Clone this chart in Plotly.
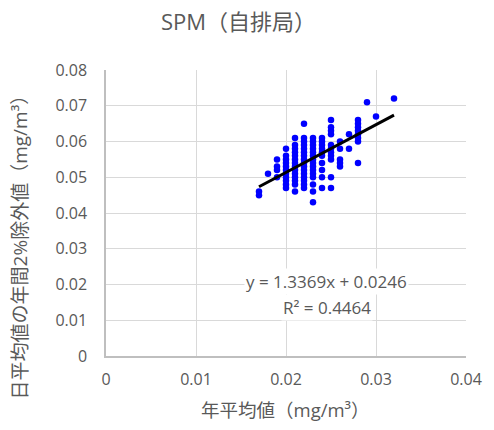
import plotly.graph_objects as go

# Annual mean (x) vs. annual 2% excluded value of daily means (y), grouped by x value
x_levels = [0.017, 0.018, 0.019, 0.020, 0.021, 0.022, 0.023, 0.024,
            0.025, 0.026, 0.027, 0.028, 0.029, 0.030, 0.032]
y_groups = [
    [0.046, 0.045],
    [0.051],
    [0.055, 0.053, 0.052, 0.050],
    [0.058, 0.056, 0.055, 0.054, 0.053, 0.052, 0.051, 0.050, 0.049, 0.048, 0.047],
    [0.061, 0.059, 0.058, 0.057, 0.056, 0.055, 0.054, 0.053, 0.052, 0.051, 0.050,
     0.049, 0.048, 0.046],
    [0.065, 0.061, 0.060, 0.059, 0.058, 0.057, 0.056, 0.055, 0.054, 0.053, 0.052,
     0.051, 0.050, 0.049, 0.048, 0.047],
    [0.061, 0.060, 0.059, 0.058, 0.057, 0.056, 0.055, 0.054, 0.053, 0.052, 0.051,
     0.050, 0.048, 0.046, 0.043],
    [0.061, 0.060, 0.059, 0.058, 0.057, 0.056, 0.054, 0.052, 0.050, 0.047],
    [0.066, 0.064, 0.063, 0.062, 0.059, 0.058, 0.057, 0.056, 0.055, 0.050, 0.047],
    [0.060, 0.058, 0.055, 0.054, 0.053],
    [0.062, 0.058],
    [0.066, 0.065, 0.064, 0.063, 0.062, 0.061, 0.060, 0.054],
    [0.071],
    [0.067],
    [0.072],
]

# Linear trendline coefficients and fit quality
slope = 1.3369
intercept = 0.0246
r_squared = 0.4464

x_ticks = [0, 0.01, 0.02, 0.03, 0.04]
y_ticks = [0, 0.01, 0.02, 0.03, 0.04, 0.05, 0.06, 0.07, 0.08]

title_text = "SPM（自排局）"
x_title = "年平均値（mg/m³）"
y_title = "日平均値の年間2%除外値（mg/m³）"

xs, ys = [], []
for xv, grp in zip(x_levels, y_groups):
    for yv in grp:
        xs.append(xv)
        ys.append(yv)

x_fit = [min(xs), max(xs)]
y_fit = [slope * v + intercept for v in x_fit]

TEXT = "#595959"
FONT = "Open Sans, Noto Sans CJK JP"

# plot area in pixels: x 106..473, y 70..356.5
PW, PH = 367, 286.5


def px_x(p):
    return (p - 106) / PW


def px_y(p):
    return (356.5 - p) / PH


fig = go.Figure()
fig.add_trace(go.Scatter(
    x=xs, y=ys, mode="markers",
    marker=dict(color="#0000FF", size=6.5, line=dict(width=0)),
    hoverinfo="x+y", showlegend=False,
))
fig.add_trace(go.Scatter(
    x=x_fit, y=y_fit, mode="lines",
    line=dict(color="#000000", width=3),
    hoverinfo="skip", showlegend=False,
))

fig.update_layout(
    width=494, height=430,
    margin=dict(l=106, r=21, t=70, b=73.5),
    paper_bgcolor="white", plot_bgcolor="white",
    font=dict(family=FONT, color=TEXT, size=16),
    title=dict(text=title_text, x=238.5 / 494, xanchor="center",
               y=1 - 22 / 430, yanchor="middle",
               font=dict(size=22, color=TEXT, family=FONT)),
    xaxis=dict(
        range=[0, 0.04], tickvals=x_ticks, ticktext=[f"{v:g}" for v in x_ticks],
        showgrid=True, gridcolor="#d9d9d9", gridwidth=1,
        showline=True, linecolor="#bfbfbf", linewidth=1.5,
        zeroline=False, ticks="", tickfont=dict(size=16, color=TEXT),
        ticklabelstandoff=8,
    ),
    yaxis=dict(
        range=[0, 0.08], tickvals=y_ticks, ticktext=[f"{v:g}" for v in y_ticks],
        showgrid=True, gridcolor="#d9d9d9", gridwidth=1,
        showline=True, linecolor="#bfbfbf", linewidth=1.5,
        zeroline=False, ticks="", tickfont=dict(size=16, color=TEXT),
        ticklabelstandoff=14,
    ),
    annotations=[
        dict(text=x_title, xref="paper", yref="paper", x=px_x(289), y=px_y(410),
             xanchor="center", yanchor="middle", showarrow=False,
             font=dict(size=18.5, color=TEXT, family=FONT)),
        dict(text=y_title, xref="paper", yref="paper", x=px_x(18), y=px_y(243),
             xanchor="center", yanchor="middle", showarrow=False, textangle=-90,
             font=dict(size=19, color=TEXT, family=FONT)),
        dict(text=f"y = {slope}x + {intercept}",
             xref="paper", yref="paper", x=px_x(331), y=px_y(282),
             xanchor="center", yanchor="middle", showarrow=False,
             bgcolor="white", font=dict(size=17, color=TEXT, family=FONT)),
        dict(text=f"R² = {r_squared}",
             xref="paper", yref="paper", x=px_x(331), y=px_y(308),
             xanchor="center", yanchor="middle", showarrow=False,
             bgcolor="white", font=dict(size=17, color=TEXT, family=FONT)),
    ],
)

fig.write_html("out.html")
